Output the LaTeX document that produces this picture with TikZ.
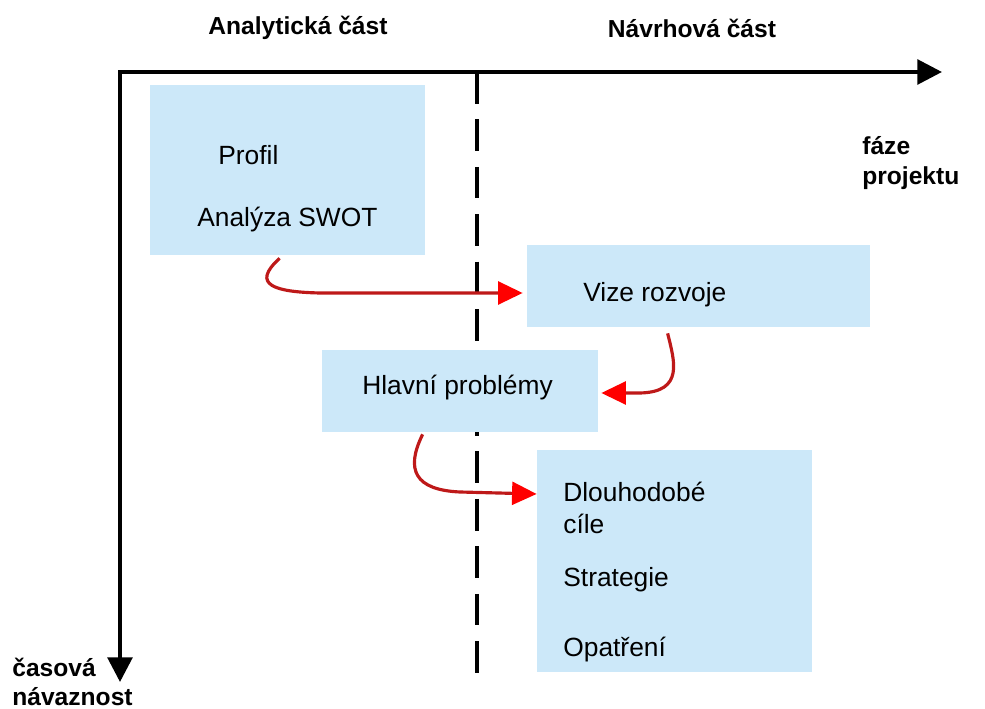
\documentclass[tikz,border=0pt]{standalone}
\usepackage{fontspec}
\setmainfont{Liberation Sans}
\usetikzlibrary{arrows.meta,calc}

\definecolor{boxblue}{RGB}{204,232,249}
\definecolor{arrowred}{RGB}{190,25,25}

\begin{document}
\begin{tikzpicture}[
    x=0.02cm, y=-0.02cm,
    phasebox/.style={fill=boxblue, draw=none, rectangle, inner sep=0pt},
    boxtext/.style={font=\fontsize{15}{18}\selectfont, anchor=west, inner sep=0pt},
    heading/.style={font=\fontsize{14}{17}\selectfont\bfseries, inner sep=0pt},
    axis/.style={line width=2.2pt, -{Triangle[length=14pt, width=14pt]}},
    flow/.style={line width=1.8pt, arrowred, -{Triangle[length=14pt, width=13pt, fill=red, color=red]}}
]
    \useasboundingbox (0,0) rectangle (985,709);

    % Axes and phase separator
    \coordinate (origin) at (120,72);
    \coordinate (timeend) at (120,682);
    \coordinate (phaseend) at (942,72);
    \coordinate (septop) at (477,72);
    \coordinate (sepbot) at (477,682);

    \draw[line width=2.8pt, dash pattern=on 18pt off 9pt] (septop) -- (sepbot);
    \draw[axis] ([xshift=-1.1pt]origin) -- (phaseend);
    \draw[axis] (origin) -- (timeend);

    \node[heading] (analyticka) at (298,28) {Analytická část};
    \node[heading] (navrhova) at (692,28) {Návrhová část};
    \node[heading, anchor=west, align=left] (faze) at (862,163) {fáze\\projektu};
    \node[heading, anchor=west, align=left] (casova) at (12,682) {časová\\návaznost};

    % Boxes
    \node[phasebox, minimum width=275*0.02cm, minimum height=170*0.02cm] (swot) at (287.5,170) {};
    \node[phasebox, minimum width=343*0.02cm, minimum height=82*0.02cm] (vize) at (698.5,286) {};
    \node[phasebox, minimum width=276*0.02cm, minimum height=82*0.02cm] (problemy) at (460,391) {};
    \node[phasebox, minimum width=275*0.02cm, minimum height=222*0.02cm] (cile) at (674.5,561) {};

    \node[boxtext] (profil) at (218,155) {Profil};
    \node[boxtext] (analyza) at (197,220) {Analýza SWOT};
    \node[boxtext] (vizetext) at (583,295) {Vize rozvoje};
    \node[boxtext] (problemytext) at (362,388) {Hlavní problémy};
    \node[boxtext, align=left] (dlouhodobe) at (563,508) {Dlouhodobé\\cíle};
    \node[boxtext] (strategie) at (563,580) {Strategie};
    \node[boxtext] (opatreni) at (563,650) {Opatření};

    % Red connectors
    \draw[flow] ($(swot.south west)+(130,3)$) .. controls (250,285) and (275,292) .. (320,293) -- ($(vize.west)+(-4,7)$);
    \draw[flow] ($(vize.south west)+(141,6)$) .. controls (674,360) and (685,392) .. (640,393) -- ($(problemy.east)+(3,2)$);
    \draw[flow] ($(problemy.south west)+(101,2)$) .. controls (405,470) and (415,490) .. (460,492) -- ($(cile.west)+(0,-67)$);
\end{tikzpicture}
\end{document}
